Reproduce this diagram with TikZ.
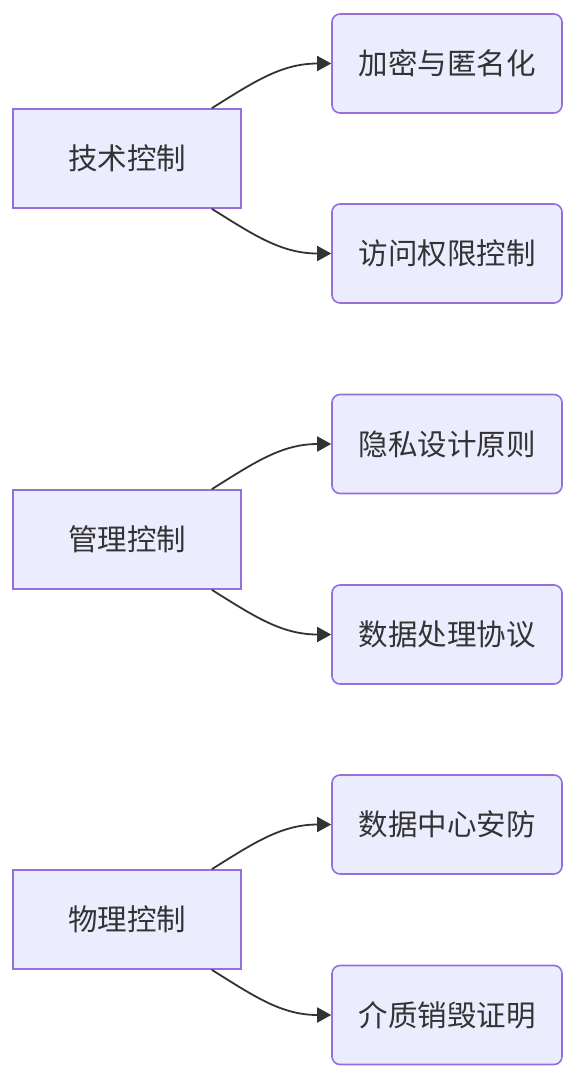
\documentclass[tikz,border=0pt]{standalone}
\usepackage{fontspec}
\setmainfont{Noto Sans CJK SC}
\usetikzlibrary{arrows.meta}
\definecolor{boxfill}{HTML}{ECECFF}
\definecolor{boxline}{HTML}{9370DB}
\definecolor{ink}{HTML}{333333}
\tikzset{
  srcbox/.style={draw=boxline, fill=boxfill, line width=1.6pt, minimum width=228pt, minimum height=99pt, inner sep=0pt, text=ink, font=\fontsize{29.5}{33}\selectfont},
  dstbox/.style={srcbox, rounded corners=8pt, minimum width=230pt},
  link/.style={draw=ink, line width=1.8pt, -{Triangle[length=14pt,width=15pt]}}
}
\begin{document}
\begin{tikzpicture}[x=1pt,y=1pt]
\useasboundingbox (0,0) rectangle (578,-1080);
% group 1
\node[srcbox] (a) at (127,-158.5) {技术控制};
\node[dstbox] (a1) at (447,-63.5) {加密与匿名化};
\node[dstbox] (a2) at (447,-253.5) {访问权限控制};
% group 2
\node[srcbox] (b) at (127,-539.5) {管理控制};
\node[dstbox] (b1) at (447,-444) {隐私设计原则};
\node[dstbox] (b2) at (447,-634.5) {数据处理协议};
% group 3
\node[srcbox] (c) at (127,-919.5) {物理控制};
\node[dstbox] (c1) at (447,-824.5) {数据中心安防};
\node[dstbox] (c2) at (447,-1015) {介质销毁证明};
\foreach \s in {a,b,c}{
  \draw[link] ([xshift=-30pt]\s.north east) to[out=32,in=180] (\s1.west);
  \draw[link] ([xshift=-30pt]\s.south east) to[out=-32,in=180] (\s2.west);
}
\end{tikzpicture}
\end{document}
